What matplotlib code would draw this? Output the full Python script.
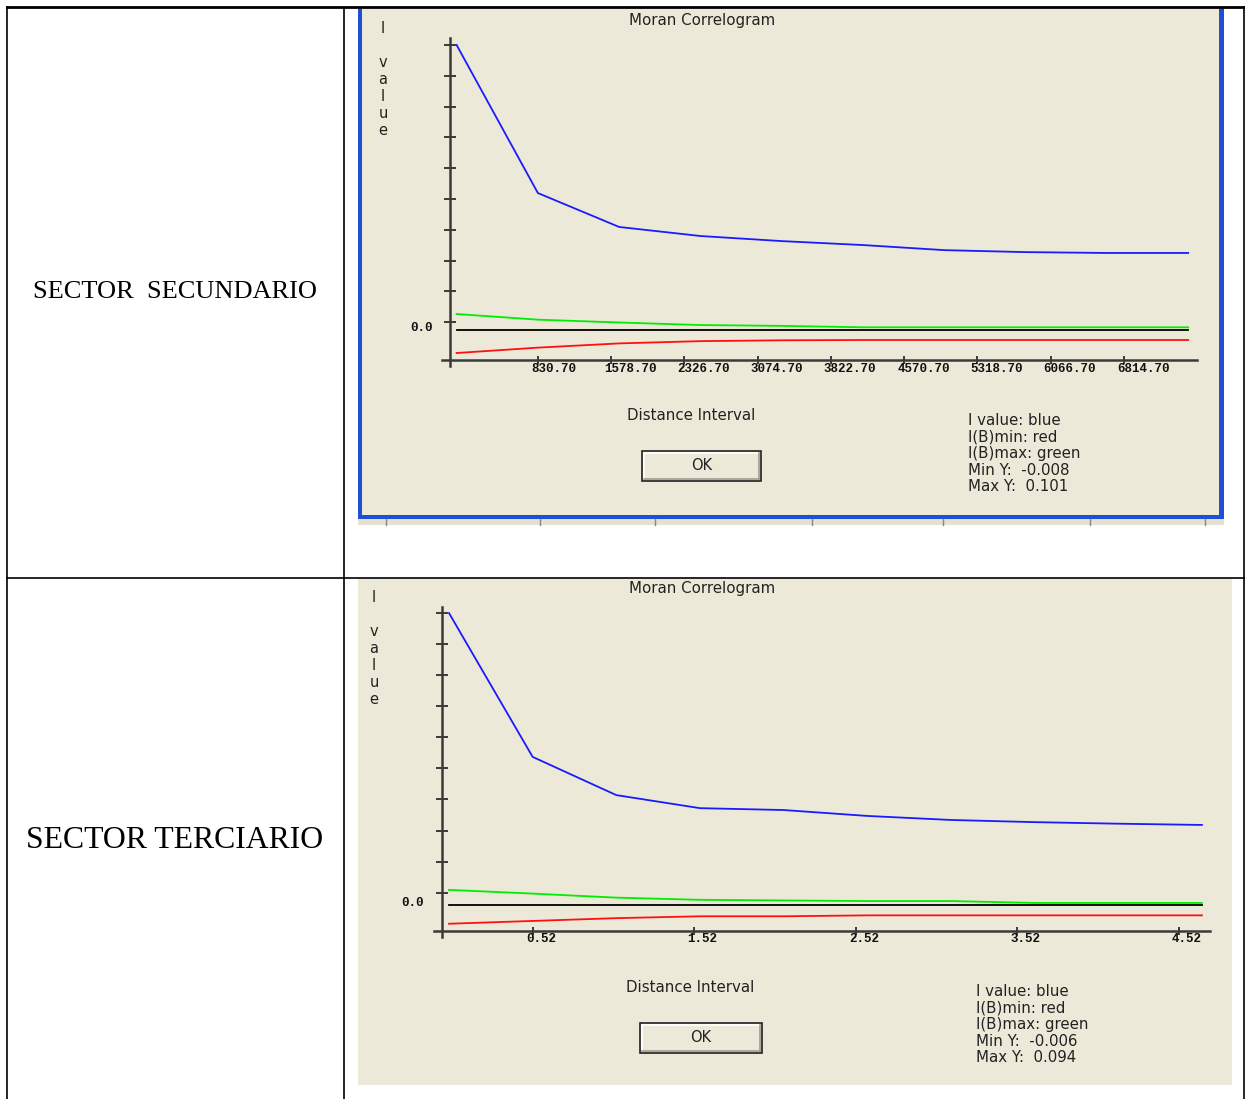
import matplotlib
matplotlib.use("Agg")
import matplotlib.pyplot as plt
import matplotlib.transforms as mtransforms
from matplotlib.patches import Rectangle

W, H, DPI = 1245, 1099, 100

# ---------------- data ----------------
row_labels = ["SECTOR  SECUNDARIO", "SECTOR TERCIARIO"]
chart_title = "Moran Correlogram"
x_title = "Distance Interval"

sec_dist = [0, 830, 1660, 2490, 3320, 4150, 4980, 5810, 6640, 7470]
sec_I = [0.101, 0.0486, 0.0366, 0.0334, 0.0316, 0.0302, 0.0284, 0.0277, 0.0274, 0.0274]
sec_Imin = [-0.0080, -0.0061, -0.0046, -0.0038, -0.0035, -0.0034, -0.0034, -0.0034, -0.0034, -0.0034]
sec_Imax = [0.0058, 0.0038, 0.0028, 0.0019, 0.0016, 0.0011, 0.0011, 0.0011, 0.0011, 0.0011]
sec_xticks = [830.70, 1578.70, 2326.70, 3074.70, 3822.70, 4570.70, 5318.70, 6066.70, 6814.70]
sec_xticklabels = ["830.70", "1578.70", "2326.70", "3074.70", "3822.70",
                   "4570.70", "5318.70", "6066.70", "6814.70"]
sec_minY, sec_maxY = -0.008, 0.101

ter_dist = [0, 0.518, 1.036, 1.554, 2.072, 2.590, 3.108, 3.626, 4.144, 4.662]
ter_I = [0.094, 0.0477, 0.0354, 0.0312, 0.0306, 0.0287, 0.0274, 0.0267, 0.0262, 0.0258]
ter_Imin = [-0.0060, -0.0051, -0.0042, -0.0036, -0.0036, -0.0033, -0.0033, -0.0033, -0.0033, -0.0033]
ter_Imax = [0.0049, 0.0037, 0.0024, 0.0017, 0.0015, 0.0013, 0.0013, 0.0007, 0.0007, 0.0007]
ter_xticks = [0.52, 1.52, 2.52, 3.52, 4.52]
ter_xticklabels = ["0.52", "1.52", "2.52", "3.52", "4.52"]
ter_minY, ter_maxY = -0.006, 0.094

legend_names = ["I value: blue", "I(B)min: red", "I(B)max: green"]

# ---------------- style ----------------
BEIGE = "#ECE9D8"
XPBLUE = "#1F4FD6"
AXC = "#3a3a3a"
UI_FONT = "DejaVu Sans"
MONO = "Liberation Mono"

fig = plt.figure(figsize=(W / DPI, H / DPI), dpi=DPI)
fig.patch.set_facecolor("white")

bg = fig.add_axes([0, 0, 1, 1], zorder=0)
bg.set_xlim(0, W)
bg.set_ylim(H, 0)
bg.axis("off")


def frac(x0, y0, x1, y1):
    return [x0 / W, 1 - y1 / H, (x1 - x0) / W, (y1 - y0) / H]


# table lines
lc = "black"
bg.plot([7, 1244], [7, 7], color=lc, lw=2.0)
bg.plot([7, 1244], [578, 578], color=lc, lw=1.2)
bg.plot([7, 7], [7, H], color=lc, lw=1.2)
bg.plot([344, 344], [7, H], color=lc, lw=1.2)
bg.plot([1244, 1244], [7, H], color=lc, lw=1.2)

# row labels
bg.text(175, 292, row_labels[0], family="Liberation Serif", fontsize=19,
        ha="center", va="center")
bg.text(175, 840, row_labels[1], family="Liberation Serif", fontsize=22.9,
        ha="center", va="center")

# top panel window (with blue frame)
bg.add_patch(Rectangle((358, 8), 1224 - 358, 519 - 8, facecolor=XPBLUE, edgecolor="none"))
bg.add_patch(Rectangle((362, 8), 1219 - 362, 515 - 8, facecolor=BEIGE, edgecolor="none"))
# strip of the window below (partly visible)
bg.add_patch(Rectangle((358, 519), 1224 - 358, 6, facecolor="#E4E1D4", edgecolor="none"))
for xs in [386, 540, 655, 812, 943, 1090, 1205]:
    bg.plot([xs, xs], [519, 525], color="#888888", lw=1)

# bottom panel
bg.add_patch(Rectangle((358, 579), 1232 - 358, 1085 - 579, facecolor=BEIGE, edgecolor="none"))


def draw_button(x0, y0, x1, y1):
    bg.add_patch(Rectangle((x0, y0), x1 - x0, y1 - y0, facecolor=BEIGE,
                           edgecolor="#202020", lw=1.2))
    bg.plot([x0 + 2, x1 - 2], [y0 + 2, y0 + 2], color="white", lw=1.2)
    bg.plot([x0 + 2, x0 + 2], [y0 + 2, y1 - 2], color="white", lw=1.2)
    bg.plot([x0 + 2, x1 - 2], [y1 - 2, y1 - 2], color="#A09D90", lw=1.2)
    bg.plot([x1 - 2, x1 - 2], [y0 + 2, y1 - 2], color="#A09D90", lw=1.2)
    bg.text((x0 + x1) / 2, (y0 + y1) / 2, "OK", family=UI_FONT, fontsize=10.5,
            ha="center", va="center", color="#222222")


def panel(box, xlim, ylim, yspine_x, xspine_y, dist, I, Imin, Imax, xticks, xticklabels,
          minY, maxY, zero_lbl_xy, ylab_xy, title_xy, xtitle_xy, button, legend_xy):
    ax = fig.add_axes(frac(*box), zorder=2)
    ax.set_facecolor("none")
    ax.set_xlim(*xlim)
    ax.set_ylim(*ylim)
    for s in ["top", "right"]:
        ax.spines[s].set_visible(False)
    ax.spines["left"].set_position(("data", yspine_x))
    ax.spines["bottom"].set_position(("data", xspine_y))
    for s in ["left", "bottom"]:
        ax.spines[s].set_color(AXC)
        ax.spines[s].set_linewidth(1.8)

    ax.plot(dist, Imax, color="#00EE00", lw=1.3)
    ax.plot(dist, Imin, color="#FF1010", lw=1.3)
    ax.plot([dist[0], dist[-1]], [0, 0], color="black", lw=1.3)
    ax.plot(dist, I, color="#1A1AFF", lw=1.3)

    step = (maxY - minY) / 10
    yt = [maxY - k * step for k in range(10)]
    ax.set_yticks(yt)
    ax.set_yticklabels([])
    ax.tick_params(axis="y", direction="inout", length=8, width=1.4, color=AXC)
    ax.set_xticks(xticks)
    ax.set_xticklabels(xticklabels, family=MONO, fontsize=9, fontweight="bold",
                       ha="left", color="#111111")
    ax.tick_params(axis="x", direction="inout", length=6, width=1.4, color=AXC, pad=-1.0)
    off = mtransforms.ScaledTranslation(-7 / DPI, 0, fig.dpi_scale_trans)
    for lab in ax.get_xticklabels():
        lab.set_transform(lab.get_transform() + off)

    bg.text(zero_lbl_xy[0], zero_lbl_xy[1], "0.0", family=MONO, fontsize=9,
            fontweight="bold", ha="right", va="center", color="#111111")
    bg.text(ylab_xy[0], ylab_xy[1], "I\n\nv\na\nl\nu\ne", family=UI_FONT, fontsize=10.5,
            ha="center", va="top", linespacing=1.17, color="#222222")
    bg.text(title_xy[0], title_xy[1], chart_title, family=UI_FONT, fontsize=10.8,
            ha="center", va="center", color="#222222")
    bg.text(xtitle_xy[0], xtitle_xy[1], x_title, family=UI_FONT, fontsize=10.8,
            ha="center", va="center", color="#222222")
    draw_button(*button)
    leg = "\n".join(legend_names + ["Min Y:  %.3f" % minY, "Max Y:  %.3f" % maxY])
    bg.text(legend_xy[0], legend_xy[1], leg, family=UI_FONT, fontsize=10.8,
            ha="left", va="top", linespacing=1.13, color="#222222")
    return ax


# pixel -> data helpers (layout only)
# top chart: x px = 456.6 + d/10.211 ; y px = 330.4 - v*2826
sx, x0p = 10.211, 456.6
sy, y0p = 2826.0, 330.4
panel(box=(442, 38, 1197, 366),
      xlim=((442 - x0p) * sx, (1197 - x0p) * sx),
      ylim=((y0p - 366) / sy, (y0p - 38) / sy),
      yspine_x=(450 - x0p) * sx, xspine_y=(y0p - 360) / sy,
      dist=sec_dist, I=sec_I, Imin=sec_Imin, Imax=sec_Imax,
      xticks=sec_xticks, xticklabels=sec_xticklabels,
      minY=sec_minY, maxY=sec_maxY,
      zero_lbl_xy=(433, 328), ylab_xy=(383, 21), title_xy=(702, 21),
      xtitle_xy=(691, 416), button=(642, 451, 761, 481), legend_xy=(968, 413))

# bottom chart: x px = 449 + d*161.5 ; y px = 905.1 - v*3107
bx, bx0 = 161.5, 449.0
by, by0 = 3107.0, 905.1
panel(box=(434, 607, 1210, 937),
      xlim=((434 - bx0) / bx, (1210 - bx0) / bx),
      ylim=((by0 - 937) / by, (by0 - 607) / by),
      yspine_x=(442 - bx0) / bx, xspine_y=(by0 - 930.7) / by,
      dist=ter_dist, I=ter_I, Imin=ter_Imin, Imax=ter_Imax,
      xticks=ter_xticks, xticklabels=ter_xticklabels,
      minY=ter_minY, maxY=ter_maxY,
      zero_lbl_xy=(424, 903), ylab_xy=(374, 590), title_xy=(702, 589),
      xtitle_xy=(690, 987), button=(640, 1023, 762, 1053), legend_xy=(976, 984))

fig.savefig("out.png", dpi=DPI, facecolor="white")
